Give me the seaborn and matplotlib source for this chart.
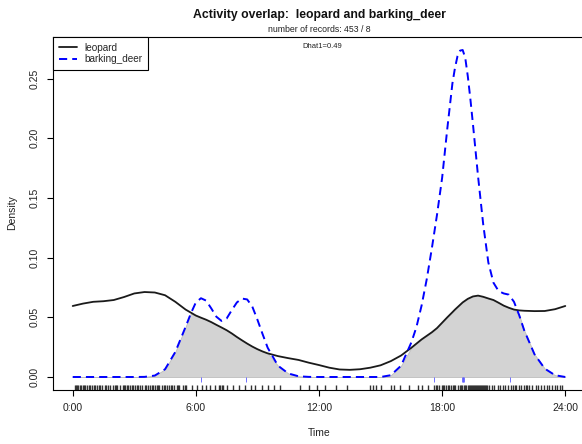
import numpy as np
import pandas as pd
import matplotlib
matplotlib.use("Agg")
import matplotlib.pyplot as plt
from matplotlib.lines import Line2D
import seaborn as sns

# ---------------- data ----------------
hours = [0, 0.5, 1.0, 1.5, 2.0, 2.5, 3.0, 3.5, 4.0, 4.5, 5.0, 5.5, 5.75, 6.0,
         6.25, 6.5, 6.75, 7.0, 7.25, 7.5, 7.75, 8.0, 8.25, 8.5, 8.75, 9.0, 9.25,
         9.5, 10.0, 10.5, 11.0, 11.5, 12.0, 12.5, 13.0, 13.5, 14.0, 14.5, 15.0,
         15.5, 16.0, 16.5, 16.75, 17.0, 17.25, 17.5, 17.75, 18.0, 18.25, 18.5,
         18.625, 18.75, 18.875, 19.0, 19.125, 19.25, 19.375, 19.5, 19.75, 20.0,
         20.25, 20.5, 20.75, 21.0, 21.25, 21.5, 21.75, 22.0, 22.5, 23.0, 23.5, 24.0]

leopard_density = [0.0595, 0.0615, 0.0630, 0.0635, 0.0645, 0.0670, 0.0700, 0.0712,
                   0.0708, 0.0685, 0.0630, 0.0565, 0.0540, 0.0515, 0.0497, 0.0480,
                   0.0460, 0.0437, 0.0415, 0.0392, 0.0365, 0.0335, 0.0307, 0.0280,
                   0.0255, 0.0233, 0.0214, 0.0198, 0.0175, 0.0158, 0.0143, 0.0120,
                   0.0100, 0.0078, 0.0063, 0.0060, 0.0065, 0.0078, 0.0098, 0.0133,
                   0.0180, 0.0245, 0.0280, 0.0315, 0.0345, 0.0375, 0.0410, 0.0455,
                   0.0500, 0.0543, 0.0565, 0.0585, 0.0605, 0.0625, 0.0640, 0.0655,
                   0.0665, 0.0675, 0.0682, 0.0672, 0.0658, 0.0645, 0.0622, 0.0598,
                   0.0580, 0.0565, 0.0558, 0.0555, 0.0552, 0.0553, 0.0568, 0.0595]

deer_density = [0.0, 0.0, 0.0, 0.0, 0.0, 0.0, 0.0, 0.0001, 0.0012, 0.0065, 0.0210,
                0.0420, 0.0530, 0.0625, 0.0660, 0.0640, 0.0575, 0.0505, 0.0470,
                0.0490, 0.0560, 0.0625, 0.0657, 0.0650, 0.0590, 0.0480, 0.0360,
                0.0245, 0.0095, 0.0030, 0.0006, 0.0001, 0.0, 0.0, 0.0, 0.0, 0.0,
                0.0, 0.0, 0.0015, 0.0095, 0.0290, 0.0420, 0.0600, 0.0820, 0.1080,
                0.1360, 0.1670, 0.2080, 0.2460, 0.2590, 0.2690, 0.2735, 0.2740,
                0.2675, 0.2520, 0.2330, 0.2120, 0.1680, 0.1280, 0.0960, 0.0790,
                0.0720, 0.0700, 0.0690, 0.0630, 0.0520, 0.0390, 0.0190, 0.0070,
                0.0015, 0.0]

leopard_times = [0.1, 0.15, 0.2, 0.25, 0.35, 0.4, 0.5, 0.55, 0.6, 0.7, 0.8, 0.85,
                 0.95, 1.05, 1.1, 1.2, 1.3, 1.35, 1.45, 1.55, 1.6, 1.7, 1.8, 1.95,
                 2.05, 2.1, 2.15, 2.3, 2.45, 2.5, 2.55, 2.65, 2.7, 2.8, 2.9, 2.95,
                 3.05, 3.15, 3.2, 3.3, 3.4, 3.5, 3.55, 3.65, 3.75, 3.85, 3.9, 4.0,
                 4.1, 4.15, 4.2, 4.35, 4.45, 4.5, 4.6, 4.7, 4.8, 4.85, 4.95, 5.1,
                 5.15, 5.2, 5.35, 5.45, 5.5, 5.8, 6.05, 6.3, 6.5, 6.7, 6.95, 7.15,
                 7.2, 7.25, 7.3, 7.5, 7.8, 8.1, 8.4, 8.7, 8.9, 9.2, 9.5, 9.8, 10.1,
                 11.05, 11.5, 11.9, 12.3, 12.85, 13.35, 14.5, 14.65, 14.8, 15.0,
                 15.5, 15.65, 15.95, 16.4, 16.8, 17.0, 17.3, 17.6, 17.7, 17.75,
                 17.85, 18.0, 18.05, 18.1, 18.2, 18.3, 18.35, 18.45, 18.55, 18.6,
                 18.65, 18.75, 18.85, 18.9, 18.95, 19.05, 19.1, 19.15, 19.25, 19.3,
                 19.35, 19.4, 19.45, 19.5, 19.55, 19.6, 19.65, 19.7, 19.75, 19.8,
                 19.85, 19.9, 19.95, 20.0, 20.05, 20.1, 20.15, 20.2, 20.3, 20.45,
                 20.55, 20.7, 20.8, 20.95, 21.05, 21.2, 21.35, 21.45, 21.55, 21.6,
                 21.75, 21.85, 22.0, 22.1, 22.15, 22.25, 22.4, 22.55, 22.65, 22.8,
                 22.95, 23.1, 23.2, 23.35, 23.5, 23.6, 23.75, 23.85]

deer_times = [6.24, 8.42, 17.6, 18.95, 19.0, 19.05, 19.0, 21.3]

xtick_values = [0, 6, 12, 18, 24]
xtick_labels = ["0:00", "6:00", "12:00", "18:00", "24:00"]
ytick_values = [0.00, 0.05, 0.10, 0.15, 0.20, 0.25]
ytick_labels = ["0.00", "0.05", "0.10", "0.15", "0.20", "0.25"]

species = ["leopard", "barking_deer"]
title_text = "Activity overlap:  leopard and barking_deer"
subtitle_text = "number of records: 453 / 8"
dhat_text = "Dhat1=0.49"

# ---------------- style ----------------
sns.set_theme(style="white")
FONT = ["Liberation Sans", "DejaVu Sans"]
plt.rcParams["font.family"] = FONT

W, H = 582, 444
fig = plt.figure(figsize=(W / 100, H / 100), dpi=100)
ax_l, ax_r, ax_t, ax_b = 53, 585, 37, 390
ax = fig.add_axes([ax_l / W, 1 - ax_b / H, (ax_r - ax_l) / W, (ax_b - ax_t) / H])

df = pd.DataFrame({"hour": hours, "leopard": leopard_density, "deer": deer_density})

DASH = (0, (4.2, 2.6))

# overlap shading
ax.fill_between(df["hour"], 0, np.minimum(df["leopard"], df["deer"]),
                facecolor="#d3d3d3", edgecolor="#bdbdbd", lw=0.6, zorder=1)

sns.lineplot(data=df, x="hour", y="leopard", color="#1a1a1a", lw=1.3, ax=ax,
             zorder=3)
sns.lineplot(data=df, x="hour", y="deer", color="#0000ff", lw=1.4,
             ax=ax, zorder=4, dashes=False, linestyle=DASH)

# rugs
sns.rugplot(x=leopard_times, height=0.014, color="#333333", lw=0.8, ax=ax)
ax.vlines(deer_times, -0.0042, 0, color="#5a5aff", lw=0.6, zorder=2)

ax.set_xlim(-0.96, 24.96)
ax.set_ylim(-0.0109, 0.2849)
ax.set_xticks(xtick_values)
ax.set_xticklabels(xtick_labels)
ax.set_yticks(ytick_values)
ax.set_yticklabels(ytick_labels, rotation=90, va="center")
ax.set_xlabel("")
ax.set_ylabel("")

ax.tick_params(axis="both", which="both", direction="out", length=4.5, width=0.8,
               color="black", labelsize=7.5, labelcolor="#222222", pad=5,
               bottom=True, left=True)
for s in ["left", "bottom", "top"]:
    ax.spines[s].set_visible(True)
    ax.spines[s].set_color("black")
    ax.spines[s].set_linewidth(0.8)
ax.spines["right"].set_visible(False)
ax.grid(False)

# legend
handles = [Line2D([0], [0], color="#1a1a1a", lw=1.3),
           Line2D([0], [0], color="#0000ff", lw=1.4, linestyle=DASH)]
leg = ax.legend(handles, species, loc="upper left", bbox_to_anchor=(0, 1),
                borderaxespad=0, fancybox=False, framealpha=1, edgecolor="black",
                fontsize=7.2, handlelength=1.75, handletextpad=0.75, borderpad=0.6,
                labelspacing=0.15)
leg.get_frame().set_linewidth(0.8)

cx = (ax_l + ax_r) / 2 / W
fig.text(cx, 1 - 15 / H, title_text, ha="center", va="center", fontsize=8.8,
         fontweight="bold", color="#111111")
fig.text(cx, 1 - 30 / H, subtitle_text, ha="center", va="center", fontsize=6.3,
         color="#222222")
fig.text(cx + 3 / W, 1 - 46 / H, dhat_text, ha="center", va="center", fontsize=5.5,
         color="#222222")
fig.text(12 / W, 1 - 213 / H, "Density", rotation=90, ha="center", va="center",
         fontsize=7.5, color="#222222")
fig.text(cx, 1 - 433 / H, "Time", ha="center", va="center", fontsize=7.5,
         color="#222222")

fig.savefig("out.png", dpi=100)
